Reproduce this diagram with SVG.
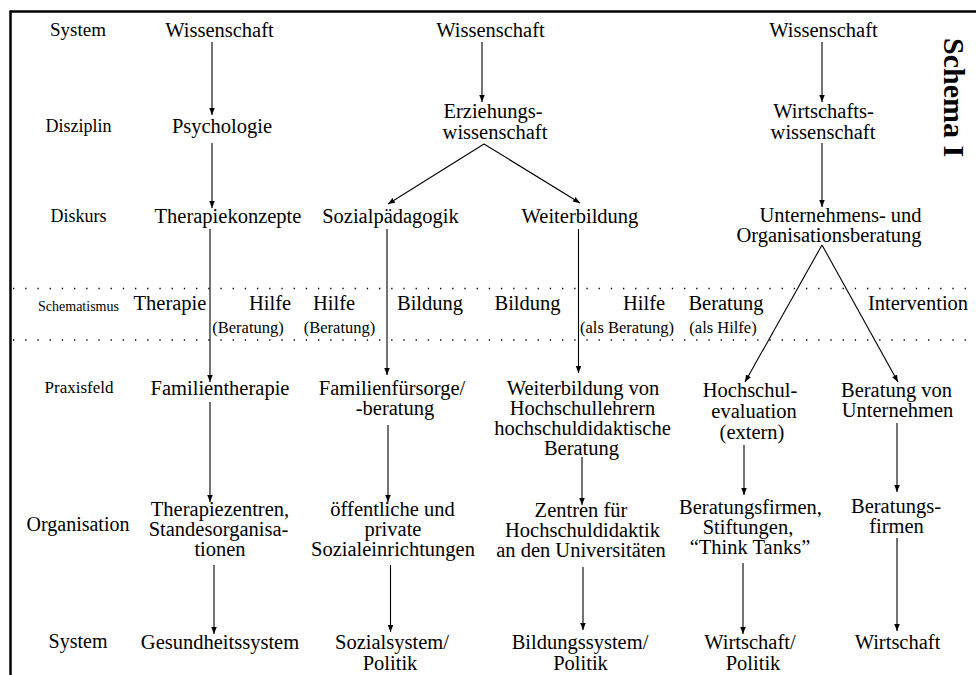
<svg xmlns="http://www.w3.org/2000/svg" width="976" height="675" viewBox="0 0 976 675">
<defs>
<marker id="ah" markerUnits="userSpaceOnUse" markerWidth="8" markerHeight="6" refX="7" refY="2.75" orient="auto">
<path d="M0,0 L7,2.75 L0,5.5 z" fill="#000"/>
</marker>
<style>
text{font-family:"Liberation Serif","Times New Roman",serif;fill:#000}
.n{font-size:20.5px;text-anchor:middle}
.p{font-size:16.5px;text-anchor:middle}
.l{font-size:18px;text-anchor:middle}
.c{stroke:#000;stroke-width:1.1;fill:none;marker-end:url(#ah)}
.d{stroke:#000;stroke-width:1.3;stroke-dasharray:1.3 10.9;fill:none}
</style>
</defs>
<rect width="976" height="675" fill="#fff"/>
<g id="frame">
<line x1="10" y1="11.5" x2="976" y2="11.5" stroke="#000" stroke-width="2.5"/>
<line x1="10.5" y1="10.5" x2="10.5" y2="675" stroke="#000" stroke-width="2.5"/>
<line class="d" x1="13" y1="288.5" x2="976" y2="288.5"/>
<line class="d" x1="13" y1="340" x2="976" y2="340"/>
</g>
<g id="title"><text transform="translate(944,38) rotate(90)" font-size="30" font-weight="bold">Schema I</text></g>
<g id="row-labels">
<text class="l" x="78" y="36" style="font-size:19px">System</text>
<text class="l" x="78.5" y="132">Disziplin</text>
<text class="l" x="78.5" y="222">Diskurs</text>
<text class="l" x="78.5" y="311" style="font-size:14px">Schematismus</text>
<text class="l" x="79" y="393" style="font-size:17px">Praxisfeld</text>
<text class="l" x="78" y="531" style="font-size:20px">Organisation</text>
<text class="l" x="78" y="648" style="font-size:20px">System</text>
</g>
<g id="connectors">
<line class="c" x1="212" y1="42" x2="212" y2="115"/>
<line class="c" x1="212" y1="143" x2="212" y2="208"/>
<line class="c" x1="210" y1="229" x2="210" y2="382"/>
<line class="c" x1="210" y1="402" x2="210" y2="502"/>
<line class="c" x1="214" y1="565" x2="214" y2="634"/>
<line class="c" x1="482" y1="42" x2="482" y2="102"/>
<line class="c" x1="484" y1="144" x2="388" y2="204"/>
<line class="c" x1="484" y1="144" x2="580" y2="203"/>
<line class="c" x1="387" y1="229" x2="387" y2="375"/>
<line class="c" x1="388" y1="425" x2="388" y2="502"/>
<line class="c" x1="390.5" y1="565" x2="390.5" y2="632"/>
<line class="c" x1="578.5" y1="229" x2="578.5" y2="373"/>
<line class="c" x1="582" y1="457" x2="582" y2="505"/>
<line class="c" x1="583" y1="567" x2="583" y2="630"/>
<line class="c" x1="822" y1="42" x2="822" y2="102"/>
<line class="c" x1="822" y1="143" x2="822" y2="207"/>
<line class="c" x1="822" y1="245" x2="745" y2="382"/>
<line class="c" x1="822" y1="245" x2="898" y2="382"/>
<line class="c" x1="744" y1="445" x2="744" y2="495"/>
<line class="c" x1="743" y1="563" x2="743" y2="634"/>
<line class="c" x1="897" y1="423" x2="897" y2="492"/>
<line class="c" x1="897" y1="538" x2="897" y2="631"/>
</g>
<g id="n-wiss1"><text class="n" x="219.5" y="37">Wissenschaft</text></g>
<g id="n-wiss2"><text class="n" x="490.5" y="37">Wissenschaft</text></g>
<g id="n-wiss3"><text class="n" x="823.5" y="37">Wissenschaft</text></g>
<g id="n-psych"><text class="n" x="222" y="133">Psychologie</text></g>
<g id="n-erz"><text class="n" x="493" y="118">Erziehungs-</text><text class="n" x="495" y="139">wissenschaft</text></g>
<g id="n-wirt"><text class="n" x="823.5" y="118">Wirtschafts-</text><text class="n" x="823" y="139">wissenschaft</text></g>
<g id="n-therapiekonz"><text class="n" x="228" y="223">Therapiekonzepte</text></g>
<g id="n-sozpaed"><text class="n" x="390.5" y="223">Sozialpädagogik</text></g>
<g id="n-weiterb"><text class="n" x="580" y="223">Weiterbildung</text></g>
<g id="n-unorg"><text class="n" x="840.5" y="222">Unternehmens- und</text><text class="n" x="829" y="242">Organisationsberatung</text></g>
<g id="s-therapie"><text class="n" x="170" y="310">Therapie</text></g>
<g id="s-hilfe1"><text class="n" x="270" y="310">Hilfe</text><text class="p" x="248" y="333">(Beratung)</text></g>
<g id="s-hilfe2"><text class="n" x="334" y="310">Hilfe</text><text class="p" x="339.5" y="333">(Beratung)</text></g>
<g id="s-bildung1"><text class="n" x="430" y="310">Bildung</text></g>
<g id="s-bildung2"><text class="n" x="527.5" y="310">Bildung</text></g>
<g id="s-hilfe3"><text class="n" x="644" y="310">Hilfe</text><text class="p" x="627" y="333">(als Beratung)</text></g>
<g id="s-beratung"><text class="n" x="726" y="310">Beratung</text><text class="p" x="723" y="333">(als Hilfe)</text></g>
<g id="s-intervention"><text class="n" x="918" y="310">Intervention</text></g>
<g id="p-famther"><text class="n" x="220" y="395">Familientherapie</text></g>
<g id="p-famfuer"><text class="n" x="392" y="395">Familienfürsorge/</text><text class="n" x="395" y="415">-beratung</text></g>
<g id="p-weiterbvon"><text class="n" x="583" y="395">Weiterbildung von</text><text class="n" x="582.5" y="415">Hochschullehrern</text><text class="n" x="582.5" y="435">hochschuldidaktische</text><text class="n" x="581.5" y="455">Beratung</text></g>
<g id="p-hseval"><text class="n" x="750" y="397">Hochschul-</text><text class="n" x="754" y="418">evaluation</text><text class="n" x="752" y="439">(extern)</text></g>
<g id="p-beratvon"><text class="n" x="896.5" y="397">Beratung von</text><text class="n" x="897.5" y="417">Unternehmen</text></g>
<g id="o-therapiez"><text class="n" x="220" y="516">Therapiezentren,</text><text class="n" x="218.5" y="536">Standesorganisa-</text><text class="n" x="220" y="556">tionen</text></g>
<g id="o-sozein"><text class="n" x="392.5" y="516">öffentliche und</text><text class="n" x="393" y="536">private</text><text class="n" x="393" y="556">Sozialeinrichtungen</text></g>
<g id="o-zentren"><text class="n" x="581" y="517">Zentren für</text><text class="n" x="582.5" y="537">Hochschuldidaktik</text><text class="n" x="581" y="557">an den Universitäten</text></g>
<g id="o-beratfirmen"><text class="n" x="750.5" y="514">Beratungsfirmen,</text><text class="n" x="748" y="534">Stiftungen,</text><text class="n" x="750" y="554">“Think Tanks”</text></g>
<g id="o-beratungs"><text class="n" x="896" y="513">Beratungs-</text><text class="n" x="896.5" y="533">firmen</text></g>
<g id="y-gesund"><text class="n" x="220" y="649">Gesundheitssystem</text></g>
<g id="y-sozsys"><text class="n" x="392" y="649">Sozialsystem/</text><text class="n" x="390" y="670">Politik</text></g>
<g id="y-bildsys"><text class="n" x="580" y="649">Bildungssystem/</text><text class="n" x="580.5" y="670">Politik</text></g>
<g id="y-wirtpol"><text class="n" x="750" y="649">Wirtschaft/</text><text class="n" x="753" y="670">Politik</text></g>
<g id="y-wirt"><text class="n" x="897.5" y="649">Wirtschaft</text></g>
</svg>
